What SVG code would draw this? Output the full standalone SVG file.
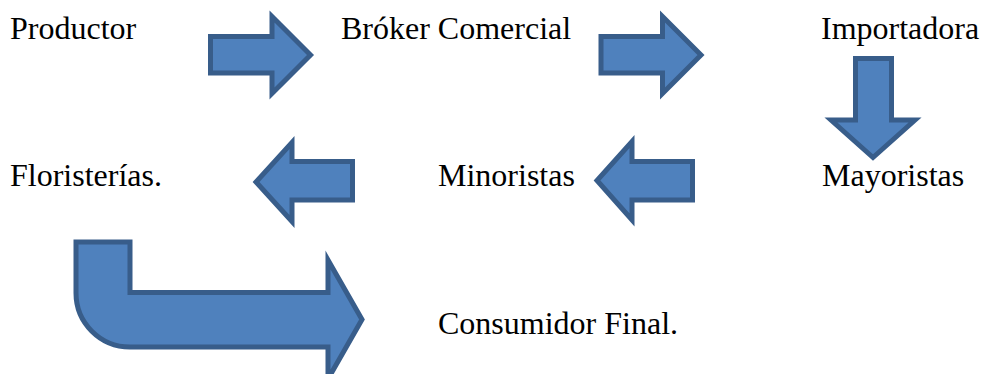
<svg xmlns="http://www.w3.org/2000/svg" width="987" height="374" viewBox="0 0 987 374">
<style>
text{font-family:'Liberation Serif','Times New Roman',serif;font-size:32px;fill:#000}
.a{fill:#4F81BD;stroke:#385D8A;stroke-width:5;stroke-linejoin:miter}
</style>
<rect width="987" height="374" fill="#fff"/>
<g id="n-productor"><text x="10" y="39">Productor</text></g>
<g id="n-broker"><text x="341" y="39">Bróker Comercial</text></g>
<g id="n-importadora"><text x="821" y="39">Importadora</text></g>
<g id="n-floristerias"><text x="10" y="186">Floristerías.</text></g>
<g id="n-minoristas"><text x="438" y="186">Minoristas</text></g>
<g id="n-mayoristas"><text x="822" y="186">Mayoristas</text></g>
<g id="n-consumidor"><text x="438" y="334">Consumidor Final.</text></g>
<g id="connectors">
<path class="a" d="M210.5,36.5 H272 V16.5 L310.5,55 L272,93.5 V73 H210.5 Z"/>
<path class="a" d="M601,36.5 H662.5 V16.5 L701,55 L662.5,93.5 V73 H601 Z"/>
<path class="a" d="M855.5,58.5 H891.5 V120 H915 L873,157.5 L831,120 H855.5 Z"/>
<path class="a" d="M352.5,161.5 V200 H292 V221.5 L256,182 L292,142.5 V161.5 Z"/>
<path class="a" d="M692.5,161.5 V200 H632 V220 L597,180.5 L632,141.5 V161.5 Z"/>
<path class="a" d="M76,242 H130 V292.5 H328 V260 L362,319.5 L328,379 V347 H130 A54,54 0 0 1 76,293 Z" stroke-linejoin="round"/>
</g>
</svg>
